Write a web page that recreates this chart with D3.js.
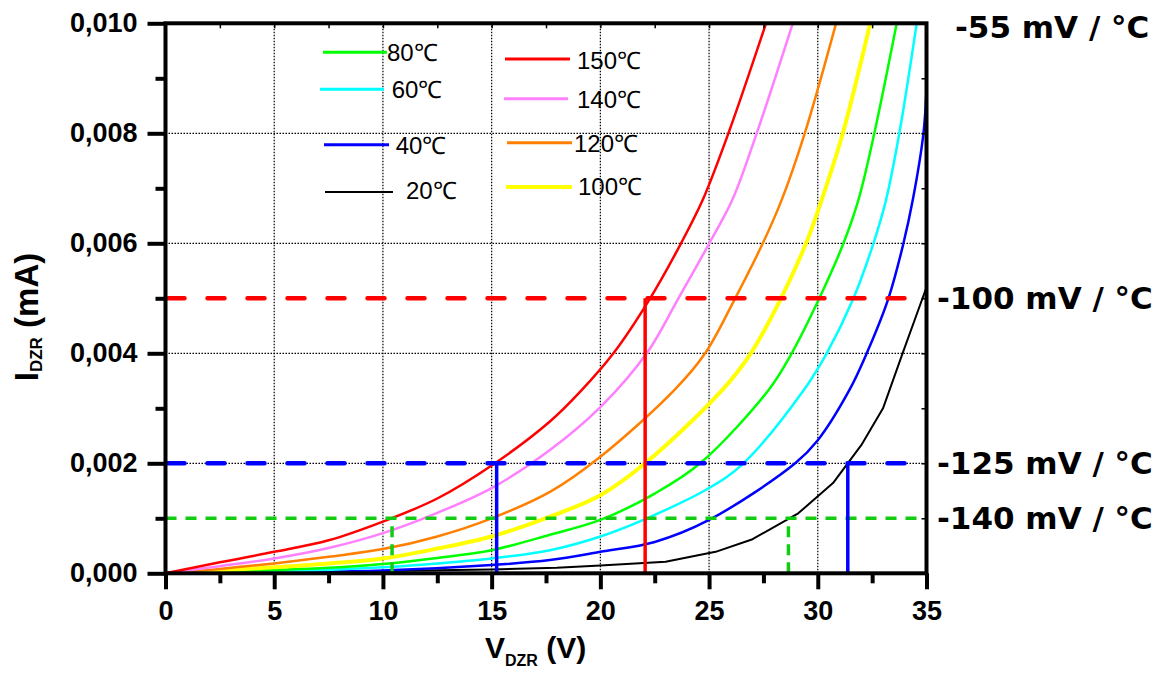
<!DOCTYPE html>
<html><head><meta charset="utf-8">
<script src="https://cdn.jsdelivr.net/npm/d3@7"></script>
<style>body{margin:0;background:#fff} svg{display:block}</style>
</head><body><svg id="c" width="1168" height="682"></svg>
<script>
// ---- data ----
const xMajor = [0, 5, 10, 15, 20, 25, 30, 35];
const xMinor = [2.5, 7.5, 12.5, 17.5, 22.5, 27.5, 32.5];
const yMajor = [0, 0.002, 0.004, 0.006, 0.008, 0.010];
const yMinor = [0.001, 0.003, 0.005, 0.007, 0.009];
const xGrid = [5, 10, 15, 20, 25, 30];
const yGrid = [0.002, 0.004, 0.006, 0.008];

const t150 = [[0,0],[2.5,0.0002],[5,0.00039],[7.5,0.0006],[10,0.00094],[12.5,0.00136],[15,0.00196],[17.68,0.00276],[19.14,0.00333],[20.6,0.004],[22.29,0.005],[23.71,0.006],[24.71,0.00679],[25.89,0.008],[27.62,0.010]];
const t140 = [[0,0],[2.5,0.00013],[5,0.00027],[7.5,0.00046],[10,0.00073],[12.5,0.0011],[15,0.00155],[17.68,0.00224],[20,0.00302],[22.13,0.004],[23.59,0.005],[25.01,0.006],[26.07,0.00679],[27.19,0.008],[28.85,0.010]];
const t120 = [[0,0],[2.5,0.00008],[5,0.00018],[7.5,0.0003],[10,0.00044],[12.5,0.00067],[15,0.001],[17.68,0.00148],[20,0.00212],[23.4,0.00333],[24.82,0.004],[26.2,0.005],[27.47,0.006],[28.34,0.00679],[29.4,0.008],[30.84,0.010]];
const t100 = [[0,0],[2.5,0.00005],[5,0.00011],[7.5,0.00018],[10,0.00027],[12.5,0.00045],[15,0.00067],[17.68,0.00103],[20,0.00142],[22.06,0.002],[25.6,0.00333],[26.92,0.004],[28.31,0.005],[29.46,0.006],[30.18,0.00679],[31.15,0.008],[32.41,0.010]];
const t80 = [[0,0],[2.5,0.00003],[5,0.00006],[7.5,0.0001],[10,0.00017],[12.5,0.00028],[15,0.00042],[17.68,0.0007],[20,0.00097],[22.5,0.00145],[24.59,0.002],[27.73,0.00333],[28.8,0.004],[30.07,0.005],[31.18,0.006],[31.87,0.00679],[32.6,0.008],[33.63,0.010]];
const t60 = [[0,0],[5,0.00003],[10,0.00011],[12.5,0.00018],[15,0.00027],[17.68,0.00042],[20,0.00067],[22.14,0.001],[25,0.00155],[26.58,0.002],[29.35,0.00333],[30.41,0.004],[31.64,0.005],[32.56,0.006],[33.14,0.00679],[33.75,0.008],[34.55,0.010]];
const t40 = [[0,0],[5,0.00002],[10,0.00005],[15,0.00015],[17.68,0.00024],[20,0.00039],[22.5,0.00057],[25,0.00097],[28.96,0.002],[30,0.00242],[31.45,0.00333],[32.25,0.004],[33.25,0.005],[33.94,0.006],[34.37,0.00679],[34.86,0.008],[35,0.0088]];
const t20 = [[0,0],[2,0.00001],[5,0.00002],[10,0.00004],[15,0.00007],[18,0.0001],[20,0.00014],[23,0.00021],[25.3,0.00039],[27,0.00062],[29.1,0.00109],[30.7,0.00164],[32,0.00233],[33,0.003],[33.9,0.004],[35,0.0052]];

const legendLabels = ["80℃", "60℃", "40℃", "20℃", "150℃", "140℃", "120℃", "100℃"];
const refLabels = ["-55 mV / °C", "-100 mV / °C", "-125 mV / °C", "-140 mV / °C"];
const refLevels = [0.005, 0.002, 0.001];
const redDrops = [22.06];
const blueDrops = [15.23, 31.38];
const greenDrops = [10.42, 28.65];

// ---- drawing ----
const svg = d3.select("#c");
const x = d3.scaleLinear([0, 35], [165.5, 926.5]);
const y = d3.scaleLinear([0, 0.010], [573.3, 23.3]);
const L = 165.5, R = 926.5, T = 23.3, B = 573.3;

svg.append("defs").append("clipPath").attr("id","clip")
  .append("rect").attr("x", L).attr("y", T).attr("width", R-L).attr("height", B-T);

// grid
const g = svg.append("g");
g.selectAll(".gx").data(xGrid).join("line")
  .attr("x1", d=>x(d)).attr("x2", d=>x(d)).attr("y1", B).attr("y2", T)
  .attr("stroke","#000").attr("stroke-width",1.2).attr("stroke-dasharray","1.5,1.5");
g.selectAll(".gy").data(yGrid).join("line")
  .attr("x1", L).attr("x2", R).attr("y1", d=>y(d)).attr("y2", d=>y(d))
  .attr("stroke","#000").attr("stroke-width",1.2).attr("stroke-dasharray","1.5,1.5");

// curves
const smooth = d3.curveCatmullRom.alpha(0.5);
const series = [
  {d:t20, c:"#000000", w:2, curve:d3.curveLinear},
  {d:t40, c:"#0000ff", w:2.5, curve:smooth},
  {d:t60, c:"#00ffff", w:2.5, curve:smooth},
  {d:t80, c:"#00ff00", w:2.5, curve:smooth},
  {d:t100, c:"#ffff00", w:4, curve:smooth},
  {d:t120, c:"#ff8000", w:2.5, curve:smooth},
  {d:t140, c:"#ff80ff", w:2.5, curve:smooth},
  {d:t150, c:"#ff0000", w:2.5, curve:smooth}
];
const cg = svg.append("g").attr("clip-path","url(#clip)");
series.forEach(s => {
  cg.append("path").datum(s.d)
    .attr("d", d3.line().x(p=>x(p[0])).y(p=>y(p[1])).curve(s.curve))
    .attr("fill","none").attr("stroke", s.c).attr("stroke-width", s.w)
    .attr("stroke-linejoin","round");
});

// reference lines
const refColors = ["#ff0000", "#0000ff", "#11cc11"];
const refG = svg.append("g");
refLevels.forEach((lv, i) => {
  const big = i < 2;
  refG.append("line").attr("x1", x(0)).attr("x2", x(35)).attr("y1", y(lv)).attr("y2", y(lv))
    .attr("stroke", refColors[i]).attr("stroke-width", big ? 4.5 : 3.5)
    .attr("stroke-dasharray", big ? "17,23" : "11,9").attr("stroke-dashoffset", big ? -2 : 0)
    .attr("stroke-linecap", big ? "round" : "butt");
});
redDrops.forEach(v => refG.append("line").attr("x1",x(v)).attr("x2",x(v)).attr("y1",y(0)).attr("y2",y(0.005))
  .attr("stroke","#ff0000").attr("stroke-width",3.5));
blueDrops.forEach(v => refG.append("line").attr("x1",x(v)).attr("x2",x(v)).attr("y1",y(0)).attr("y2",y(0.002))
  .attr("stroke","#0000ff").attr("stroke-width",3.5));
greenDrops.forEach(v => refG.append("line").attr("x1",x(v)).attr("x2",x(v)).attr("y1",y(0)).attr("y2",y(0.001))
  .attr("stroke","#11cc11").attr("stroke-width",3.5).attr("stroke-dasharray","11,7"));

// axes
const fmt = d => d.toFixed(3).replace(".", ",");
const font = "'Liberation Sans', Arial, sans-serif";
function styleAxis(sel){
  sel.select(".domain").remove();
  sel.selectAll(".tick line").attr("stroke","#000").attr("stroke-width",4);
  sel.selectAll(".tick text").attr("fill","#000").attr("font-size",27).attr("font-weight","bold").attr("font-family",font);
}
svg.append("g").attr("transform",`translate(${L},0)`)
  .call(d3.axisLeft(y).tickValues(yMajor).tickFormat(fmt).tickSize(18).tickPadding(10).tickSizeOuter(0)).call(styleAxis);
svg.append("g").attr("transform",`translate(${L},0)`)
  .call(d3.axisLeft(y).tickValues(yMinor).tickFormat("").tickSize(10).tickSizeOuter(0)).call(styleAxis);
svg.append("g").attr("transform",`translate(0,${B})`)
  .call(d3.axisBottom(x).tickValues(xMajor).tickFormat(d3.format("d")).tickSize(16).tickPadding(12).tickSizeOuter(0)).call(styleAxis);
svg.append("g").attr("transform",`translate(0,${B})`)
  .call(d3.axisBottom(x).tickValues(xMinor).tickFormat("").tickSize(10).tickSizeOuter(0)).call(styleAxis);
// inner small ticks on top and right
function thin(sel){ sel.select(".domain").remove(); sel.selectAll(".tick line").attr("stroke","#000").attr("stroke-width",1.5); }
svg.append("g").attr("transform",`translate(0,${T})`)
  .call(d3.axisTop(x).tickValues(xMajor.concat(xMinor)).tickFormat("").tickSize(-5).tickSizeOuter(0)).call(thin);
svg.append("g").attr("transform",`translate(${R},0)`)
  .call(d3.axisRight(y).tickValues(yMajor.concat(yMinor)).tickFormat("").tickSize(-5).tickSizeOuter(0)).call(thin);

// frame
svg.append("rect").attr("x",L).attr("y",T).attr("width",R-L).attr("height",B-T)
  .attr("fill","none").attr("stroke","#000").attr("stroke-width",4);

// axis titles
const xt = svg.append("text").attr("x",485).attr("y",658).attr("font-family",font).attr("font-weight","bold").attr("fill","#000");
xt.append("tspan").attr("font-size",30).text("V");
xt.append("tspan").attr("font-size",16).attr("dy",8).text("DZR");
xt.append("tspan").attr("font-size",30).attr("dy",-8).text(" (V)");

const yt = svg.append("text").attr("transform","translate(38,317) rotate(-90)").attr("text-anchor","middle")
  .attr("font-family",font).attr("font-weight","bold").attr("fill","#000");
yt.append("tspan").attr("font-size",33).text("I");
yt.append("tspan").attr("font-size",17).attr("dy",4).text("DZR");
yt.append("tspan").attr("font-size",33).attr("dy",-4).text(" (mA)");

// right-side labels
const rFont = "'DejaVu Sans', sans-serif";
const rPos = [[955, 0.010], [937, 0.005], [937, 0.002], [937, 0.001]];
refLabels.forEach((t, i) => {
  svg.append("text").attr("x", rPos[i][0]).attr("y", y(rPos[i][1]) + (i===0 ? 4 : 0)).attr("dy","0.36em")
    .attr("font-family", rFont).attr("font-weight","bold").attr("font-size",31).attr("fill","#000").text(t);
});

// legend
const legColors = ["#00ff00", "#00ffff", "#0000ff", "#000000", "#ff0000", "#ff80ff", "#ff8000", "#ffff00"];
const legWidths = [3, 3, 3, 2.2, 3, 3, 3, 4];
const legLine = [[323,387,52.3],[320,384,89.3],[324,389,144.7],[325,393,192],[505,570,59],[504,568,98.7],[507,572,142.7],[506,572,187]];
const legText = [[387,52.7],[391.7,89],[395.7,145],[406,190],[577,60],[577,99],[574,143],[578,186.7]];
legendLabels.forEach((lab, i) => {
  svg.append("line").attr("x1", legLine[i][0]).attr("x2", legLine[i][1]).attr("y1", legLine[i][2]).attr("y2", legLine[i][2])
    .attr("stroke", legColors[i]).attr("stroke-width", legWidths[i]);
  svg.append("text").attr("x", legText[i][0]).attr("y", legText[i][1]).attr("dy","0.36em")
    .attr("font-family", font).attr("font-size", 24).attr("fill","#000").text(lab);
});
</script></body></html>
